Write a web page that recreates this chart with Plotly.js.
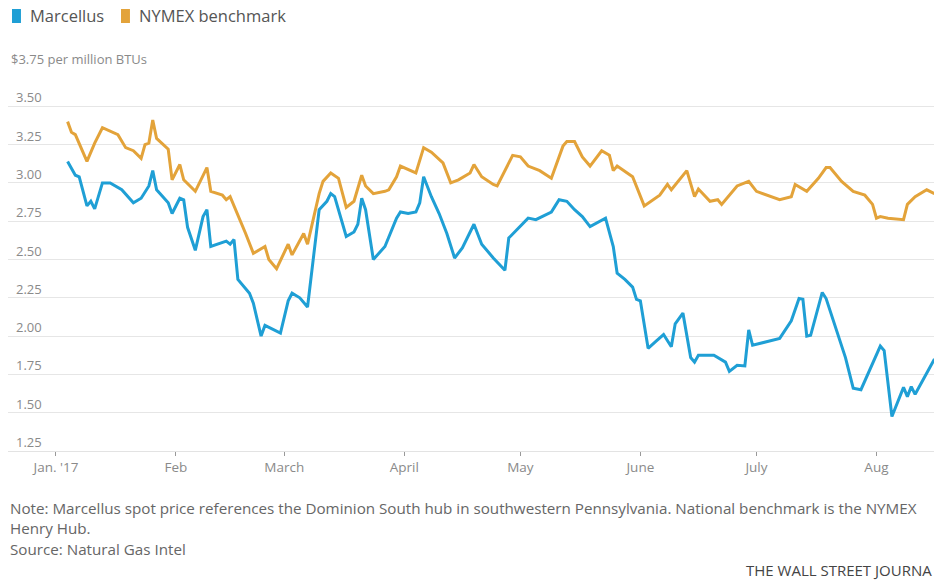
<!DOCTYPE html>
<html>
<head>
<meta charset="utf-8">
<script src="https://cdn.plot.ly/plotly-3.0.1.min.js"></script>
<style>
  html, body { margin: 0; padding: 0; background: #fff; }
  #chart { width: 934px; height: 581px; }
</style>
</head>
<body>
<div id="chart"></div>
<script>
// ---- Data ----
const seriesNames = ['Marcellus', 'NYMEX benchmark'];
const seriesColors = ['#1f9fd5', '#e3a33a'];

const marcellusDates = [
  '2017-01-04','2017-01-05','2017-01-06','2017-01-07','2017-01-09','2017-01-10','2017-01-11','2017-01-13','2017-01-15','2017-01-18',
  '2017-01-21','2017-01-23','2017-01-25','2017-01-26','2017-01-27','2017-01-30','2017-01-31','2017-02-02','2017-02-03','2017-02-04',
  '2017-02-06','2017-02-08','2017-02-09','2017-02-10','2017-02-13','2017-02-14','2017-02-15','2017-02-16','2017-02-17','2017-02-20',
  '2017-02-21','2017-02-23','2017-02-24','2017-02-28','2017-03-02','2017-03-03','2017-03-05','2017-03-07','2017-03-10','2017-03-12',
  '2017-03-13','2017-03-14','2017-03-17','2017-03-19','2017-03-20','2017-03-21','2017-03-22','2017-03-24','2017-03-27','2017-03-28',
  '2017-03-30','2017-03-31','2017-04-02','2017-04-04','2017-04-05','2017-04-06','2017-04-08','2017-04-10','2017-04-12','2017-04-14',
  '2017-04-16','2017-04-19','2017-04-21','2017-04-24','2017-04-27','2017-04-28','2017-04-30','2017-05-03','2017-05-05','2017-05-09',
  '2017-05-10','2017-05-11','2017-05-13','2017-05-15','2017-05-17','2017-05-19','2017-05-23','2017-05-25','2017-05-26','2017-05-28',
  '2017-05-30','2017-05-31','2017-06-01','2017-06-03','2017-06-05','2017-06-07','2017-06-09','2017-06-10','2017-06-12','2017-06-14',
  '2017-06-15','2017-06-16','2017-06-20','2017-06-22','2017-06-23','2017-06-24','2017-06-26','2017-06-28','2017-06-29','2017-06-30',
  '2017-07-07','2017-07-10','2017-07-12','2017-07-13','2017-07-14','2017-07-15','2017-07-18','2017-07-19','2017-07-22','2017-07-24',
  '2017-07-26','2017-07-28','2017-08-02','2017-08-03','2017-08-05','2017-08-08','2017-08-09','2017-08-10','2017-08-11','2017-08-16'
];
const marcellusValues = [
  3.14,3.09,3.05,3.04,2.85,2.88,2.83,3.00,3.00,2.955,
  2.87,2.90,2.98,3.08,2.955,2.87,2.80,2.90,2.89,2.71,
  2.56,2.78,2.825,2.585,2.61,2.62,2.60,2.63,2.37,2.28,
  2.215,2.00,2.07,2.02,2.23,2.28,2.25,2.19,2.825,2.88,
  2.93,2.91,2.65,2.68,2.73,2.90,2.825,2.50,2.585,2.65,
  2.77,2.81,2.80,2.81,2.87,3.04,2.91,2.80,2.67,2.51,
  2.575,2.73,2.60,2.51,2.43,2.64,2.69,2.77,2.76,2.81,
  2.85,2.89,2.88,2.825,2.78,2.715,2.77,2.585,2.41,2.37,
  2.32,2.24,2.23,1.92,1.965,2.01,1.93,2.08,2.15,1.86,
  1.83,1.875,1.875,1.845,1.83,1.77,1.81,1.805,2.04,1.94,
  1.985,2.10,2.245,2.24,2.00,2.005,2.285,2.245,2.005,1.86,
  1.66,1.65,1.935,1.905,1.475,1.665,1.605,1.67,1.62,1.85
];

const nymexDates = [
  '2017-01-04','2017-01-05','2017-01-06','2017-01-09','2017-01-11','2017-01-13','2017-01-17','2017-01-19','2017-01-21','2017-01-23',
  '2017-01-24','2017-01-25','2017-01-26','2017-01-27','2017-01-30','2017-01-31','2017-02-02','2017-02-03','2017-02-06','2017-02-08',
  '2017-02-09','2017-02-10','2017-02-13','2017-02-14','2017-02-15','2017-02-19','2017-02-21','2017-02-24','2017-02-25','2017-02-27',
  '2017-03-02','2017-03-03','2017-03-06','2017-03-07','2017-03-10','2017-03-11','2017-03-13','2017-03-15','2017-03-17','2017-03-19',
  '2017-03-21','2017-03-22','2017-03-24','2017-03-27','2017-03-28','2017-03-30','2017-03-31','2017-04-04','2017-04-06','2017-04-08',
  '2017-04-11','2017-04-13','2017-04-15','2017-04-18','2017-04-19','2017-04-21','2017-04-24','2017-04-25','2017-04-28','2017-04-29',
  '2017-05-01','2017-05-03','2017-05-06','2017-05-09','2017-05-12','2017-05-13','2017-05-15','2017-05-17','2017-05-19','2017-05-22',
  '2017-05-24','2017-05-25','2017-05-26','2017-05-30','2017-06-02','2017-06-06','2017-06-08','2017-06-09','2017-06-13','2017-06-15',
  '2017-06-16','2017-06-19','2017-06-21','2017-06-22','2017-06-26','2017-06-29','2017-07-01','2017-07-04','2017-07-07','2017-07-10',
  '2017-07-11','2017-07-14','2017-07-17','2017-07-19','2017-07-20','2017-07-23','2017-07-26','2017-07-29','2017-07-31','2017-08-01',
  '2017-08-02','2017-08-04','2017-08-08','2017-08-09','2017-08-11','2017-08-14','2017-08-16'
];
const nymexValues = [
  3.40,3.33,3.315,3.14,3.26,3.36,3.315,3.23,3.21,3.16,
  3.25,3.26,3.41,3.29,3.22,3.02,3.12,3.02,2.945,3.05,
  3.10,2.945,2.92,2.89,2.91,2.67,2.54,2.585,2.50,2.44,
  2.60,2.53,2.67,2.60,2.93,3.01,3.065,3.03,2.84,2.88,
  3.05,2.98,2.93,2.945,2.955,3.04,3.11,3.065,3.23,3.20,
  3.13,3.00,3.02,3.065,3.12,3.04,2.99,2.98,3.13,3.18,
  3.17,3.11,3.08,3.03,3.24,3.27,3.27,3.17,3.11,3.21,
  3.18,3.08,3.11,3.04,2.85,2.92,2.99,2.955,3.08,2.91,
  2.96,2.88,2.89,2.86,2.98,3.01,2.945,2.92,2.89,2.91,
  2.99,2.945,3.03,3.10,3.10,3.01,2.945,2.92,2.86,2.77,
  2.78,2.77,2.76,2.86,2.91,2.955,2.93
];

const xTickVals = ['2017-01-01','2017-02-01','2017-03-01','2017-04-01','2017-05-01','2017-06-01','2017-07-01','2017-08-01'];
const xTickText = ["Jan. '17",'Feb','March','April','May','June','July','Aug'];
const yTickVals = [1.25,1.5,1.75,2.0,2.25,2.5,2.75,3.0,3.25,3.5,3.75];
const yTickText = ['1.25','1.50','1.75','2.00','2.25','2.50','2.75','3.00','3.25','3.50','$3.75 per million BTUs'];

const noteLines = [
  'Note: Marcellus spot price references the Dominion South hub in southwestern Pennsylvania. National benchmark is the NYMEX',
  'Henry Hub.',
  'Source: Natural Gas Intel'
];
// the reference picture is cropped at its right edge; the credit shows as far as it is visible there
const creditText = 'THE WALL STREET JOURNA';

// ---- Build chart ----
const FONT = '"Open Sans", "Noto Sans", sans-serif';

const traces = [
  { type: 'scatter', mode: 'lines', name: seriesNames[0], x: marcellusDates, y: marcellusValues,
    line: { color: seriesColors[0], width: 3, shape: 'linear' }, hoverinfo: 'x+y' },
  { type: 'scatter', mode: 'lines', name: seriesNames[1], x: nymexDates, y: nymexValues,
    line: { color: seriesColors[1], width: 3, shape: 'linear' }, hoverinfo: 'x+y' }
];

const annotations = [];
// y tick labels drawn above gridlines, inside plot on the left
yTickVals.forEach((v, i) => {
  annotations.push({
    xref: 'paper', yref: 'y', x: 0, y: v, xanchor: 'left', yanchor: 'middle',
    xshift: i === yTickVals.length - 1 ? 1 : 6, yshift: 9,
    text: yTickText[i], showarrow: false,
    font: { family: FONT, size: 13, color: '#8a8a8a' }
  });
});
// legend (manual)
const legendX = [0.0216, 0.1393];
seriesNames.forEach((n, i) => {
  annotations.push({
    xref: 'paper', yref: 'paper', x: legendX[i], y: 1.1375, xanchor: 'left', yanchor: 'middle',
    text: n, showarrow: false, font: { family: FONT, size: 16.5, color: '#555' }
  });
});
// notes
const noteY = [-0.1488, -0.2010, -0.2560];
noteLines.forEach((t, i) => {
  annotations.push({
    xref: 'paper', yref: 'paper', x: 0, y: noteY[i], xanchor: 'left', yanchor: 'middle',
    text: t, showarrow: false, font: { family: FONT, size: 15.2, color: '#666' }
  });
});
annotations.push({
  xref: 'paper', yref: 'paper', x: 1, y: -0.3120, xanchor: 'right', yanchor: 'middle', xshift: -1,
  borderpad: 0,
  text: creditText, showarrow: false, font: { family: FONT, size: 15, color: '#444' }
});

const shapes = [
  { type: 'rect', xref: 'paper', yref: 'paper', x0: 0.0043, x1: 0.0140, y0: 1.1175, y1: 1.1540,
    fillcolor: seriesColors[0], line: { width: 0 } },
  { type: 'rect', xref: 'paper', yref: 'paper', x0: 0.1220, x1: 0.1317, y0: 1.1175, y1: 1.1540,
    fillcolor: seriesColors[1], line: { width: 0 } }
];

const layout = {
  width: 934, height: 581,
  margin: { l: 8, r: 0, t: 68, b: 130, pad: 0 },
  paper_bgcolor: '#ffffff', plot_bgcolor: '#ffffff',
  showlegend: false,
  font: { family: FONT, color: '#888' },
  xaxis: {
    type: 'date',
    range: ['2016-12-19 14:24', '2017-08-15 21:00'],
    tickmode: 'array', tickvals: xTickVals, ticktext: xTickText,
    ticks: 'outside', ticklen: 4, tickwidth: 1, tickcolor: '#999',
    showgrid: false, zeroline: false,
    showline: true, linecolor: '#e3e3e3', linewidth: 1,
    tickfont: { family: FONT, size: 13.5, color: '#8a8a8a' },
    fixedrange: true
  },
  yaxis: {
    range: [1.25, 3.75],
    tickmode: 'array', tickvals: yTickVals,
    showticklabels: false, ticks: '',
    showgrid: true, gridcolor: '#e6e6e6', gridwidth: 1,
    zeroline: false, showline: false,
    fixedrange: true
  },
  annotations: annotations,
  shapes: shapes
};

Plotly.newPlot('chart', traces, layout, { displayModeBar: false, staticPlot: true });
</script>
</body>
</html>
